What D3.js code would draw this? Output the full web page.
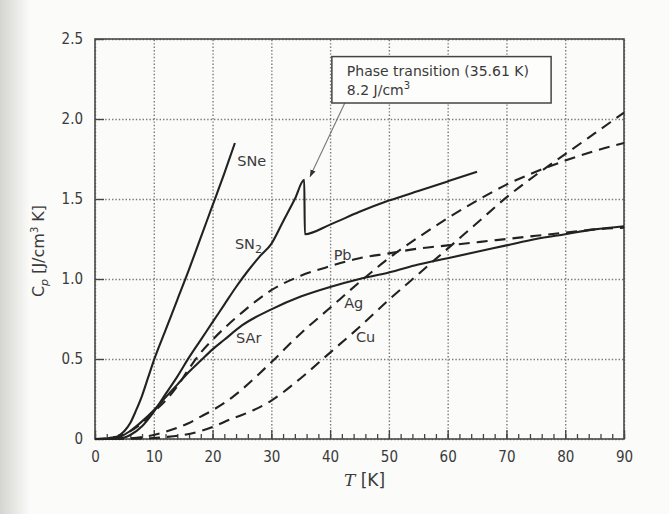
<!DOCTYPE html>
<html>
<head>
<meta charset="utf-8">
<script src="https://cdn.jsdelivr.net/npm/d3@7"></script>
<style>
  body { margin: 0; background: #fbfbf9; }
  svg { display: block; }
  text { font-family: "DejaVu Sans", sans-serif; fill: #3a3a3a; }
</style>
</head>
<body>
<svg id="chart" width="669" height="514"></svg>
<script>
// values
const sneT  = [0, 2, 3, 4, 5, 6, 7, 8, 9, 10, 12, 14, 16, 18, 20, 22, 23.8];
const sneCp = [0, 0.003, 0.01, 0.02, 0.05, 0.1, 0.18, 0.27, 0.38, 0.49, 0.68, 0.87, 1.06, 1.26, 1.46, 1.66, 1.85];

const sn2T  = [0, 3, 5, 6, 8, 10, 12, 14, 16, 18, 20, 22, 24, 26, 28, 30, 32, 34, 35.6, 35.7, 40, 45, 50, 55, 60, 65];
const sn2Cp = [0, 0, 0.01, 0.025, 0.08, 0.17, 0.28, 0.39, 0.51, 0.62, 0.73, 0.84, 0.95, 1.05, 1.14, 1.22, 1.36, 1.5, 1.62, 1.28, 1.34, 1.42, 1.49, 1.55, 1.61, 1.67];

const sarT  = [0, 3, 4, 6, 8, 10, 12, 14, 16, 18, 20, 22, 25, 30, 35, 40, 45, 50, 55, 60, 65, 70, 75, 80, 85, 90];
const sarCp = [0, 0, 0.01, 0.05, 0.11, 0.18, 0.26, 0.34, 0.42, 0.49, 0.56, 0.62, 0.71, 0.81, 0.89, 0.95, 1.0, 1.04, 1.09, 1.13, 1.17, 1.21, 1.25, 1.28, 1.31, 1.33];

const pbT  = [0, 3, 5, 8, 10, 12, 14, 16, 18, 20, 25, 30, 35, 40, 45, 50, 55, 60, 65, 70, 75, 80, 85, 90];
const pbCp = [0, 0.005, 0.03, 0.1, 0.17, 0.24, 0.33, 0.44, 0.54, 0.62, 0.79, 0.93, 1.02, 1.08, 1.13, 1.16, 1.19, 1.21, 1.23, 1.25, 1.27, 1.29, 1.31, 1.32];

const agT  = [0, 5, 8, 10, 12, 14, 16, 18, 20, 23.5, 25, 30, 35, 40, 45, 50, 55, 60, 65, 70, 75, 80, 85, 90];
const agCp = [0, 0.003, 0.012, 0.025, 0.045, 0.07, 0.1, 0.14, 0.18, 0.265, 0.31, 0.48, 0.66, 0.82, 0.98, 1.13, 1.26, 1.38, 1.49, 1.59, 1.67, 1.74, 1.8, 1.85];

const cuT  = [0, 8, 10, 12, 15, 18, 20, 23.5, 25, 30, 35, 40, 45, 50, 55, 60, 65, 70, 75, 80, 85, 90];
const cuCp = [0, 0.003, 0.006, 0.012, 0.025, 0.05, 0.075, 0.13, 0.15, 0.24, 0.38, 0.54, 0.7, 0.87, 1.03, 1.19, 1.35, 1.51, 1.65, 1.78, 1.91, 2.04];

const xTicks = [0, 10, 20, 30, 40, 50, 60, 70, 80, 90];
const yTicks = [0, 0.5, 1.0, 1.5, 2.0, 2.5];
const yTickLabels = ['0', '0.5', '1.0', '1.5', '2.0', '2.5'];

const series = [
  { name: 'SNe', T: sneT, cp: sneCp, dashed: false, at: [24.2, 1.74] },
  { name: 'SN2', T: sn2T, cp: sn2Cp, dashed: false, at: [23.8, 1.22] },
  { name: 'SAr', T: sarT, cp: sarCp, dashed: false, at: [24.0, 0.63] },
  { name: 'Pb',  T: pbT,  cp: pbCp,  dashed: true,  at: [40.6, 1.15] },
  { name: 'Ag',  T: agT,  cp: agCp,  dashed: true,  at: [42.4, 0.85] },
  { name: 'Cu',  T: cuT,  cp: cuCp,  dashed: true,  at: [44.4, 0.64] }
];

const svg = d3.select('#chart');
const W = 669, H = 514;
const margin = { left: 95, right: 45, top: 39, bottom: 75 };
const iw = W - margin.left - margin.right;
const ih = H - margin.top - margin.bottom;

// scanned paper look: grey gutter on the left
const defs = svg.append('defs');
const grad = defs.append('linearGradient').attr('id', 'gutter');
grad.append('stop').attr('offset', '0%').attr('stop-color', '#d4d4d0');
grad.append('stop').attr('offset', '100%').attr('stop-color', '#fbfbf9');
svg.append('rect').attr('width', W).attr('height', H).attr('fill', '#fbfbf9');
svg.append('rect').attr('width', 30).attr('height', H).attr('fill', 'url(#gutter)');

const x = d3.scaleLinear().domain([0, 90]).range([0, iw]);
const y = d3.scaleLinear().domain([0, 2.5]).range([ih, 0]);

const g = svg.append('g').attr('transform', `translate(${margin.left},${margin.top})`);

// dotted grid
g.append('g')
  .attr('class', 'grid')
  .attr('transform', `translate(0,${ih})`)
  .call(d3.axisBottom(x).tickValues(xTicks).tickSize(-ih).tickFormat(''))
  .call(a => a.select('.domain').remove());
g.append('g')
  .attr('class', 'grid')
  .call(d3.axisLeft(y).tickValues(yTicks).tickSize(-iw).tickFormat(''))
  .call(a => a.select('.domain').remove());
g.selectAll('.grid line')
  .attr('stroke', '#7a7a7a')
  .attr('stroke-width', 1.4)
  .attr('stroke-dasharray', '1.4,2');

// inner ticks
g.append('g')
  .attr('transform', `translate(0,${ih})`)
  .call(d3.axisBottom(x).tickValues(d3.range(0, 91, 2)).tickSize(-5).tickFormat(''))
  .call(a => a.select('.domain').remove())
  .selectAll('line').attr('stroke', '#444').attr('stroke-width', 1.3);
g.append('g')
  .attr('transform', `translate(0,${ih})`)
  .call(d3.axisBottom(x).tickValues(xTicks).tickSize(-9).tickPadding(12).tickFormat(d3.format('d')))
  .call(a => a.select('.domain').remove())
  .call(a => a.selectAll('line').attr('stroke', '#444').attr('stroke-width', 1.3))
  .call(a => a.selectAll('text').attr('font-size', 15).attr('fill', '#444'));
g.append('g')
  .call(d3.axisLeft(y).tickValues(yTicks).tickSize(-9).tickPadding(12).tickFormat((d, i) => yTickLabels[i]))
  .call(a => a.select('.domain').remove())
  .call(a => a.selectAll('line').attr('stroke', '#444').attr('stroke-width', 1.3))
  .call(a => a.selectAll('text').attr('font-size', 15).attr('fill', '#444'));
g.selectAll('.tick text').style('font-family', '"DejaVu Sans Condensed", "DejaVu Sans", sans-serif');

// frame
g.append('rect')
  .attr('width', iw).attr('height', ih)
  .attr('fill', 'none').attr('stroke', '#4a4a4a').attr('stroke-width', 1.6);

// curves
const line = d3.line()
  .x(d => x(d[0]))
  .y(d => y(d[1]))
  .curve(d3.curveMonotoneX);

g.selectAll('path.curve')
  .data(series)
  .join('path')
  .attr('class', 'curve')
  .attr('fill', 'none')
  .attr('stroke', '#222')
  .attr('stroke-width', 2.1)
  .attr('stroke-dasharray', d => d.dashed ? '11,7' : null)
  .attr('d', d => line(d.T.map((t, i) => [t, d.cp[i]])));

// curve labels
const lab = g.selectAll('text.lab')
  .data(series)
  .join('text')
  .attr('class', 'lab')
  .attr('x', d => x(d.at[0]))
  .attr('y', d => y(d.at[1]))
  .attr('dy', '0.35em')
  .attr('font-size', 14.5)
  .attr('fill', '#333')
  .text(d => d.name === 'SN2' ? 'SN' : d.name);
lab.filter(d => d.name === 'SN2')
  .append('tspan').attr('dy', '4').attr('font-size', 11).text('2');

// phase transition annotation
const box = { t0: 40.3, t1: 77.6, c0: 2.39, c1: 2.1 };
const arrowFrom = [42.5, 2.1], arrowTo = [36.6, 1.64];
defs.append('marker')
  .attr('id', 'ah').attr('viewBox', '0 0 10 10')
  .attr('refX', 9).attr('refY', 5)
  .attr('markerWidth', 7).attr('markerHeight', 7)
  .attr('orient', 'auto')
  .append('path').attr('d', 'M0,1.5L10,5L0,8.5Z').attr('fill', '#333');
g.append('line')
  .attr('x1', x(arrowFrom[0])).attr('y1', y(arrowFrom[1]))
  .attr('x2', x(arrowTo[0])).attr('y2', y(arrowTo[1]))
  .attr('stroke', '#777').attr('stroke-width', 1.1)
  .attr('marker-end', 'url(#ah)');
g.append('rect')
  .attr('x', x(box.t0)).attr('y', y(box.c0))
  .attr('width', x(box.t1) - x(box.t0)).attr('height', y(box.c1) - y(box.c0))
  .attr('fill', '#fdfdfc').attr('stroke', '#444').attr('stroke-width', 1.5);
const ann = g.append('text')
  .attr('x', x(box.t0) + 15).attr('y', y(box.c0) + 19)
  .attr('font-size', 14).attr('fill', '#333');
ann.append('tspan').text('Phase transition (35.61 K)');
const l2 = g.append('text')
  .attr('x', x(box.t0) + 15).attr('y', y(box.c0) + 38)
  .attr('font-size', 14).attr('fill', '#333');
l2.append('tspan').text('8.2 J/cm');
l2.append('tspan').attr('dy', -6).attr('font-size', 10).text('3');

// axis titles
const xt = svg.append('text')
  .attr('x', margin.left + x(45) + 5).attr('y', 486)
  .attr('text-anchor', 'middle').attr('font-size', 17).attr('fill', '#444');
xt.append('tspan').attr('font-family', '"DejaVu Serif", serif').attr('font-style', 'italic').text('T');
xt.append('tspan').text(' [K]');

const yt = svg.append('text')
  .attr('transform', `translate(44,${margin.top + ih / 2 + 12}) rotate(-90)`)
  .attr('text-anchor', 'middle').attr('font-size', 16).attr('fill', '#444');
yt.append('tspan').text('C');
yt.append('tspan').attr('dy', 4).attr('font-size', 11).attr('font-style', 'italic').text('p');
yt.append('tspan').attr('dy', -4).text(' [J/cm');
yt.append('tspan').attr('dy', -6).attr('font-size', 10).text('3');
yt.append('tspan').attr('dy', 6).text(' K]');
</script>
</body>
</html>
